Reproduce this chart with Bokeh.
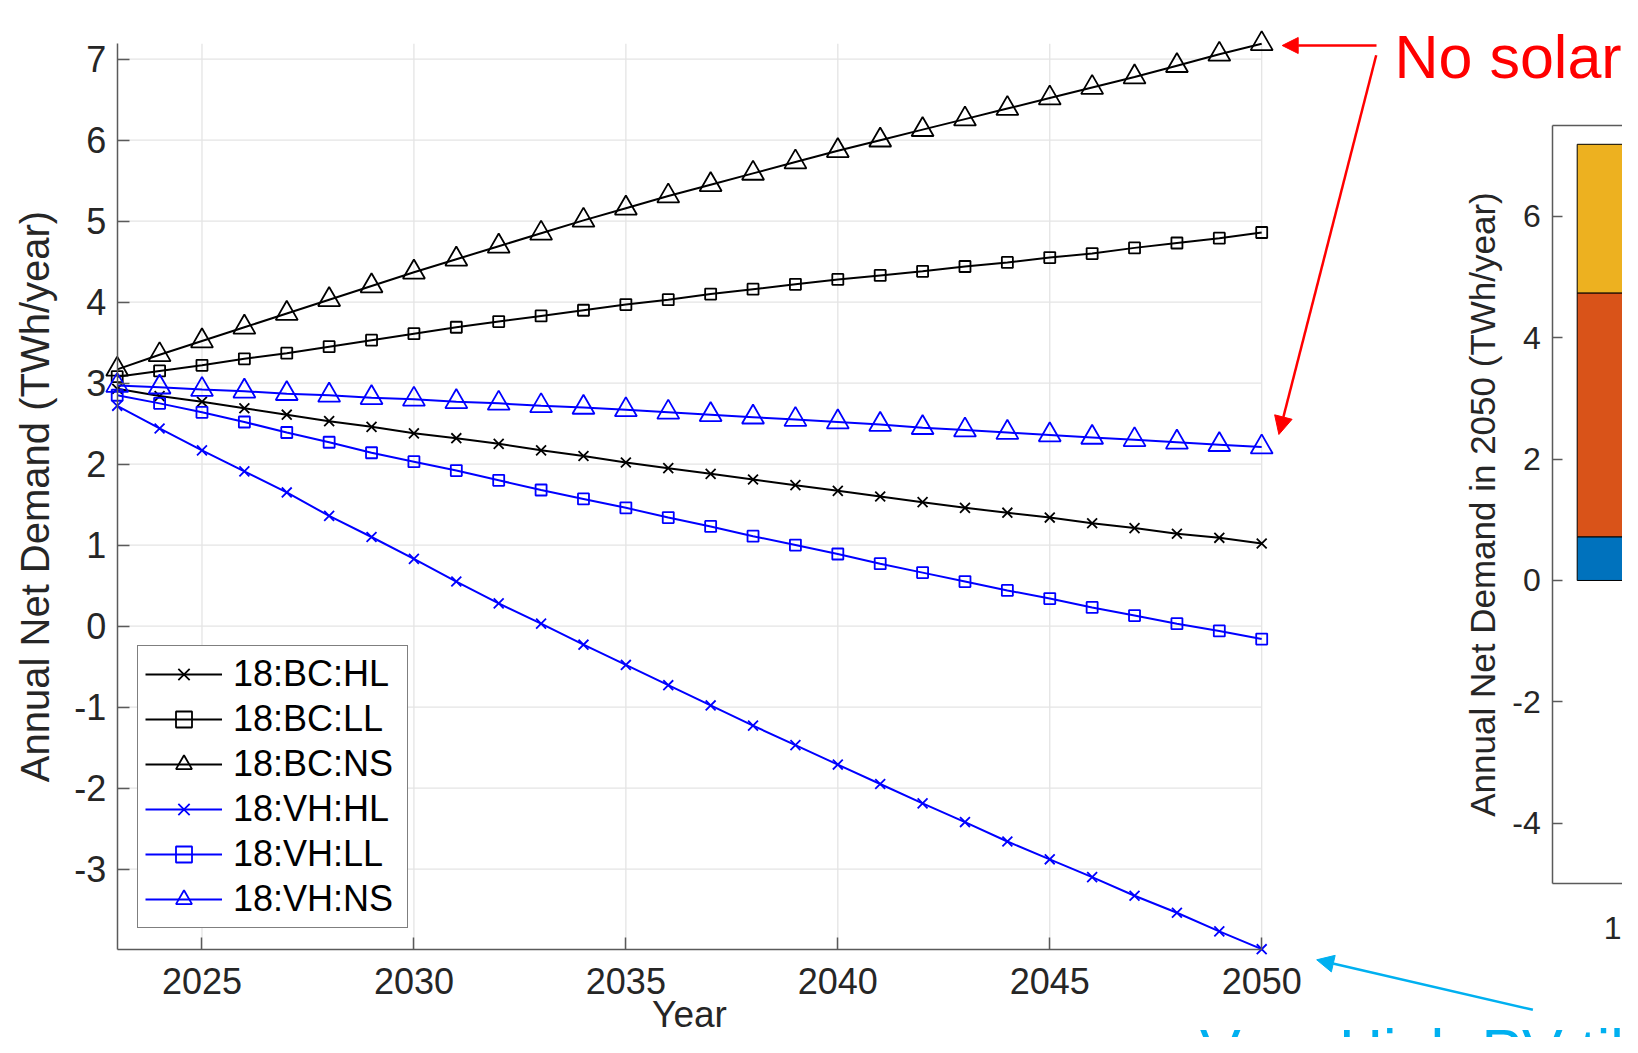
import math
from bokeh.plotting import figure
from bokeh.models import (Range1d, FixedTicker, LinearAxis, Legend, LegendItem,
                          Label, Arrow, NormalHead, ColumnDataSource)
from bokeh.embed import file_html
from bokeh.resources import INLINE

# ---------------- data ----------------
YEARS = list(range(2023, 2051))
BC_HL = [2.93, 2.84, 2.77, 2.69, 2.61, 2.53, 2.46, 2.38, 2.32, 2.25, 2.17, 2.10, 2.02, 1.95,
         1.88, 1.81, 1.74, 1.67, 1.60, 1.53, 1.46, 1.40, 1.34, 1.27, 1.21, 1.14, 1.09, 1.02]
BC_LL = [3.08, 3.15, 3.22, 3.30, 3.37, 3.45, 3.53, 3.61, 3.69, 3.76, 3.83, 3.90, 3.97, 4.03,
         4.10, 4.16, 4.22, 4.28, 4.33, 4.38, 4.44, 4.49, 4.55, 4.60, 4.67, 4.73, 4.79, 4.86]
BC_NS = [3.17, 3.35, 3.52, 3.69, 3.86, 4.03, 4.20, 4.37, 4.53, 4.69, 4.85, 5.01, 5.16, 5.31,
         5.45, 5.59, 5.73, 5.87, 6.00, 6.13, 6.26, 6.39, 6.52, 6.65, 6.78, 6.92, 7.06, 7.19]
VH_HL = [2.72, 2.44, 2.17, 1.91, 1.65, 1.36, 1.10, 0.83, 0.55, 0.28, 0.03, -0.23, -0.48, -0.73,
         -0.98, -1.23, -1.47, -1.71, -1.95, -2.19, -2.42, -2.66, -2.88, -3.10, -3.33, -3.54, -3.77, -3.99]
VH_LL = [2.85, 2.75, 2.64, 2.52, 2.39, 2.27, 2.14, 2.03, 1.92, 1.80, 1.68, 1.57, 1.46, 1.34,
         1.23, 1.11, 1.00, 0.89, 0.77, 0.66, 0.55, 0.44, 0.34, 0.23, 0.13, 0.03, -0.06, -0.16]
VH_NS = [2.97, 2.95, 2.92, 2.90, 2.87, 2.85, 2.82, 2.80, 2.77, 2.75, 2.72, 2.70, 2.67, 2.64,
         2.61, 2.58, 2.55, 2.52, 2.49, 2.45, 2.42, 2.39, 2.36, 2.33, 2.30, 2.27, 2.24, 2.21]
SERIES_LABELS = ["18:BC:HL", "18:BC:LL", "18:BC:NS", "18:VH:HL", "18:VH:LL", "18:VH:NS"]
SERIES_VALUES = [BC_HL, BC_LL, BC_NS, VH_HL, VH_LL, VH_NS]
X_TICKS = [2025, 2030, 2035, 2040, 2045, 2050]
Y_TICKS = [-3, -2, -1, 0, 1, 2, 3, 4, 5, 6, 7]

BAR_LABELS = ["18:BC:NS"]
BAR_PART_A = [0.72]
BAR_PART_B = [4.02]
BAR_PART_C = [2.45]
BAR_Y_TICKS = [-4, -2, 0, 2, 4, 6]
BAR_Y_LIMITS = (-5, 7.5)

# ---------------- styles / placement (pixels in the picture) ----------------
FONT = "Liberation Sans"
TXT = "#262626"
AXC = "#5a5a5a"
GRIDC = "#E4E4E4"
RED = "#FF0000"
CYAN = "#00B0F0"
SERIES_COLORS = ["#000000", "#000000", "#000000", "#0000FF", "#0000FF", "#0000FF"]
SERIES_MARKERS = ["x", "square", "triangle", "x", "square", "triangle"]
MARKER_SIZES = {"x": 14, "square": 11, "triangle": 22}
BAR_COLORS = ["#0072BD", "#D95319", "#EDB120"]

W, H = 1622, 1037

# line-chart axes box
LX0_PX, LX1_PX = 116.7, 1261.2
LY0_PX, LY1_PX = 948.7, 43.3
# bar-chart axes box
BX0_PX, BAR_UNIT_PX = 1552.3, 244.0
BY_TOP_PX, BY_BOT_PX = 125.0, 883.3

x0, x1 = min(YEARS), max(YEARS)
allv = [v for s in SERIES_VALUES for v in s]
y0, y1 = min(allv), max(allv)
sx = (LX1_PX - LX0_PX) / (x1 - x0)
sy = (LY0_PX - LY1_PX) / (y1 - y0)


def dx(px):
    return x0 + (px - LX0_PX) / sx


def dy(py):
    return y0 + (LY0_PX - py) / sy


by0, by1 = BAR_Y_LIMITS
sby = (BY_BOT_PX - BY_TOP_PX) / (by1 - by0)


def bdx(px):
    return 0.5 + (px - BX0_PX) / BAR_UNIT_PX


def bdy(py):
    return by0 + (BY_BOT_PX - py) / sby


p = figure(width=W, height=H, title=None,
           x_range=Range1d(dx(0), dx(W)), y_range=Range1d(dy(H), dy(0)),
           output_backend="svg", toolbar_location=None,
           x_axis_location=None, y_axis_location=None, min_border=0)
p.min_border_left = p.min_border_right = p.min_border_top = p.min_border_bottom = 0
p.extra_x_ranges = {"bar": Range1d(bdx(0), bdx(W))}
p.extra_y_ranges = {"bar": Range1d(bdy(H), bdy(0))}
p.outline_line_color = None
p.background_fill_color = "white"
p.border_fill_color = "white"
p.grid.visible = False


def style_axis(ax, size, standoff, tick_in=12):
    ax.axis_line_color = AXC
    ax.axis_line_width = 1.5
    ax.major_tick_line_color = AXC
    ax.major_tick_line_width = 1.5
    ax.major_tick_in = tick_in
    ax.major_tick_out = 0
    ax.minor_tick_line_color = None
    ax.major_label_text_font = FONT
    ax.major_label_text_font_size = size
    ax.major_label_text_color = TXT
    ax.major_label_standoff = standoff
    ax.axis_label_text_font = FONT
    ax.axis_label_text_font_style = "normal"
    ax.axis_label_text_color = TXT


def hyphen_labels(ticks):
    return {t: ("-" + str(abs(t))) for t in ticks if t < 0}


# ---------------- line chart ----------------
xax = LinearAxis(fixed_location=y0, bounds=(x0, x1), ticker=FixedTicker(ticks=X_TICKS),
                 axis_label="Year")
style_axis(xax, "36px", 19)
xax.axis_label_text_font_size = "37px"
xax.axis_label_standoff = -4
p.add_layout(xax, "below")

yax = LinearAxis(fixed_location=x0, bounds=(y0, y1), ticker=FixedTicker(ticks=Y_TICKS),
                 axis_label="Annual Net Demand (TWh/year)",
                 major_label_overrides=hyphen_labels(Y_TICKS))
style_axis(yax, "36px", 11)
yax.axis_label_text_font_size = "40px"
yax.axis_label_standoff = 14
p.add_layout(yax, "left")

# grid lines from tick values, limited to the axes box
p.segment(x0=X_TICKS, y0=[y0] * len(X_TICKS), x1=X_TICKS, y1=[y1] * len(X_TICKS),
          line_color=GRIDC, line_width=1.3)
p.segment(x0=[x0] * len(Y_TICKS), y0=Y_TICKS, x1=[x1] * len(Y_TICKS), y1=Y_TICKS,
          line_color=GRIDC, line_width=1.3)

items = []
for lab, vals, col, mk in zip(SERIES_LABELS, SERIES_VALUES, SERIES_COLORS, SERIES_MARKERS):
    src = ColumnDataSource(dict(x=YEARS, y=vals))
    ln = p.line("x", "y", source=src, line_color=col, line_width=2)
    sc = p.scatter("x", "y", source=src, marker=mk, size=MARKER_SIZES[mk],
                   line_color=col, fill_color=None, line_width=1.8)
    items.append(LegendItem(label=lab, renderers=[ln, sc]))

LEG_LEFT_PX, LEG_BOTTOM_PX = 137, 927.5
legend = Legend(items=items, location=(LEG_LEFT_PX, H - LEG_BOTTOM_PX), margin=0,
                label_text_font=FONT, label_text_font_size="36px", label_text_color="#000000",
                glyph_width=77, glyph_height=40, label_height=40, label_width=167,
                label_standoff=11, padding=7, spacing=3,
                border_line_color="#000000", border_line_width=1,
                background_fill_color="white", background_fill_alpha=1.0)
p.add_layout(legend)

# ---------------- partial bar chart ----------------
bar_x = [i + 1 for i in range(len(BAR_LABELS))]
bsrc = ColumnDataSource(dict(x=bar_x, a=BAR_PART_A, b=BAR_PART_B, c=BAR_PART_C))
p.vbar_stack(["a", "b", "c"], x="x", width=0.8, source=bsrc,
             fill_color=BAR_COLORS, line_color="#000000", line_width=1,
             x_range_name="bar", y_range_name="bar")

bx_end = bdx(W) + 1
qy = LinearAxis(x_range_name="bar", y_range_name="bar", fixed_location=0.5,
                bounds=BAR_Y_LIMITS, ticker=FixedTicker(ticks=BAR_Y_TICKS),
                axis_label="Annual Net Demand in 2050 (TWh/year)",
                major_label_overrides=hyphen_labels(BAR_Y_TICKS))
style_axis(qy, "32px", 12, tick_in=10)
qy.axis_label_text_font_size = "35px"
qy.axis_label_standoff = 7
p.add_layout(qy, "left")
for side, loc in (("below", by0), ("above", by1)):
    ax = LinearAxis(x_range_name="bar", y_range_name="bar", fixed_location=loc,
                    bounds=(0.5, bx_end), ticker=FixedTicker(ticks=[]))
    style_axis(ax, "1px", 0)
    ax.major_label_text_alpha = 0
    p.add_layout(ax, side)

for xi, lab in zip(bar_x, BAR_LABELS):
    p.add_layout(Label(x=xi, y=bdy(927), x_range_name="bar", y_range_name="bar", text=lab,
                       text_align="center", text_baseline="alphabetic", text_font=FONT,
                       text_font_size="32px", text_color=TXT))

# ---------------- annotations ----------------
BIG = "61px"
p.add_layout(Label(x=dx(1394), y=dy(56), text="No solar", text_align="left",
                   text_baseline="alphabetic", text_font=FONT, text_font_size=BIG,
                   text_color=RED))
p.add_layout(Arrow(x_start=dx(1376), y_start=dy(45), x_end=dx(1281.7), y_end=dy(45),
                   line_color=RED, line_width=2.5,
                   end=NormalHead(size=16, fill_color=RED, line_color=RED, line_width=1)))
p.add_layout(Arrow(x_start=dx(1375.7), y_start=dy(54.7), x_end=dx(1278.4), y_end=dy(434),
                   line_color=RED, line_width=2.5,
                   end=NormalHead(size=18, fill_color=RED, line_color=RED, line_width=1)))
p.add_layout(Arrow(x_start=dx(1532.4), y_start=dy(1009.3), x_end=dx(1316.2), y_end=dy(959.3),
                   line_color=CYAN, line_width=2.5,
                   end=NormalHead(size=17, fill_color=CYAN, line_color=CYAN, line_width=1)))
# only the tops of this text are inside the picture, as in the reference
p.add_layout(Label(x=dx(1199.5), y=dy(1016.5), text="Very High PV til", text_align="left",
                   text_baseline="top", text_font=FONT, text_font_size=BIG,
                   text_color=CYAN))

open("out.html", "w").write(file_html(p, INLINE))
